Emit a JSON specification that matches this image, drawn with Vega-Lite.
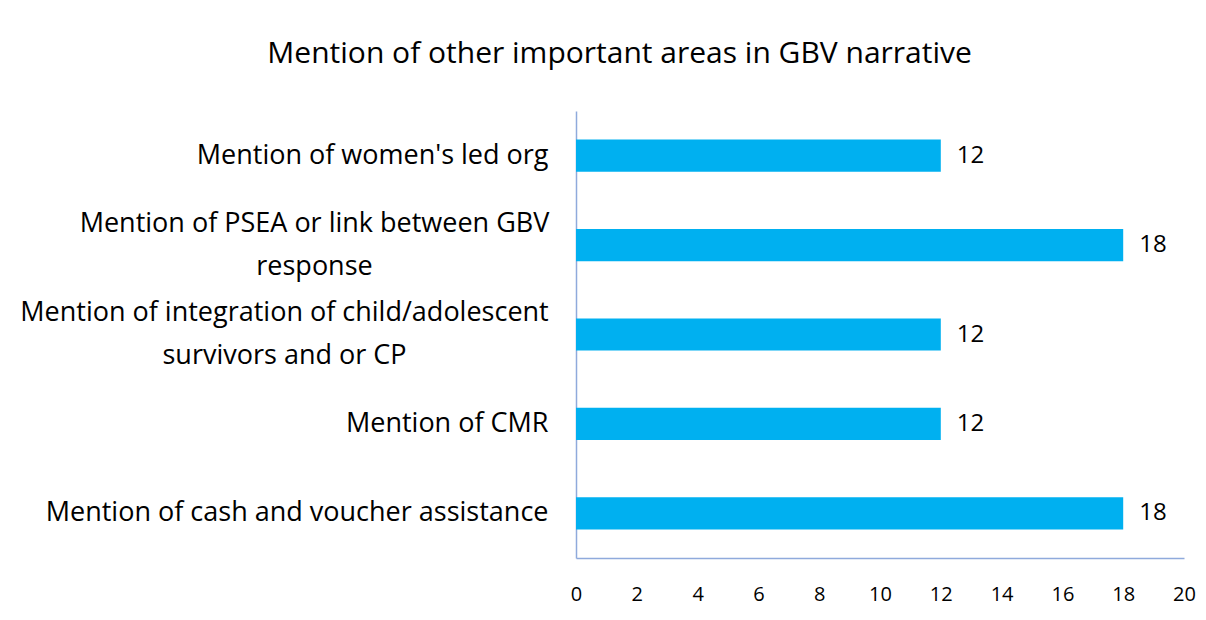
{
  "$schema": "https://vega.github.io/schema/vega-lite/v6.json",
  "autosize": {"type": "none"},
  "padding": {"left": 576, "top": 111, "right": 22, "bottom": 62},
  "width": 608,
  "height": 447,
  "background": "white",
  "config": {"view": {"stroke": null}, "font": "Open Sans, sans-serif"},
  "title": {
    "text": "Mention of other important areas in GBV narrative",
    "anchor": "middle",
    "frame": "bounds",
    "fontSize": 30,
    "fontWeight": "normal",
    "color": "#000000",
    "offset": 42,
    "dx": 12,
    "font": "Open Sans, sans-serif"
  },
  "data": {
    "values": [
      {"area": "Mention of women's led org", "count": 12, "order": 1},
      {"area": "Mention of PSEA or link between GBV response", "count": 18, "order": 2},
      {"area": "Mention of integration of child/adolescent survivors and or CP", "count": 12, "order": 3},
      {"area": "Mention of CMR", "count": 12, "order": 4},
      {"area": "Mention of cash and voucher assistance", "count": 18, "order": 5}
    ]
  },
  "encoding": {
    "y": {
      "field": "area",
      "type": "nominal",
      "sort": {"field": "order", "order": "ascending"},
      "scale": {"paddingInner": 0.64, "paddingOuter": 0.32},
      "axis": {
        "title": null,
        "domainColor": "#8FAADC",
        "domainWidth": 1.5,
        "ticks": false,
        "labelFontSize": 27,
        "labelColor": "#000000",
        "labelLimit": 600,
        "labelLineHeight": 43,
        "labelAlign": {"condition": {"test": "indexof(datum.value, 'PSEA') >= 0 || indexof(datum.value, 'child') >= 0", "value": "center"}, "value": "right"},
        "labelOffset": {"condition": {"test": "indexof(datum.value, 'PSEA') >= 0 || indexof(datum.value, 'child') >= 0", "value": -21.5}, "value": 0},
        "labelPadding": {"condition": [
          {"test": "indexof(datum.value, 'PSEA') >= 0", "value": 262},
          {"test": "indexof(datum.value, 'child') >= 0", "value": 292}
        ], "value": 28},
        "labelExpr": "datum.value == 'Mention of PSEA or link between GBV response' ? ['Mention of PSEA or link between GBV', 'response'] : datum.value == 'Mention of integration of child/adolescent survivors and or CP' ? ['Mention of integration of child/adolescent', 'survivors and or CP'] : datum.value"
      }
    },
    "x": {
      "field": "count",
      "type": "quantitative",
      "scale": {"domain": [0, 20]},
      "axis": {
        "title": null,
        "values": [0, 2, 4, 6, 8, 10, 12, 14, 16, 18, 20],
        "grid": false,
        "ticks": false,
        "domainColor": "#8FAADC",
        "domainWidth": 1.5,
        "labelFontSize": 20,
        "labelColor": "#000000",
        "labelPadding": 26,
        "labelFlush": false
      }
    }
  },
  "layer": [
    {"mark": {"type": "bar", "color": "#00B0F0"}},
    {
      "mark": {"type": "text", "align": "left", "dx": 16, "fontSize": 24, "color": "#000000"},
      "encoding": {"text": {"field": "count", "type": "quantitative"}}
    }
  ]
}
